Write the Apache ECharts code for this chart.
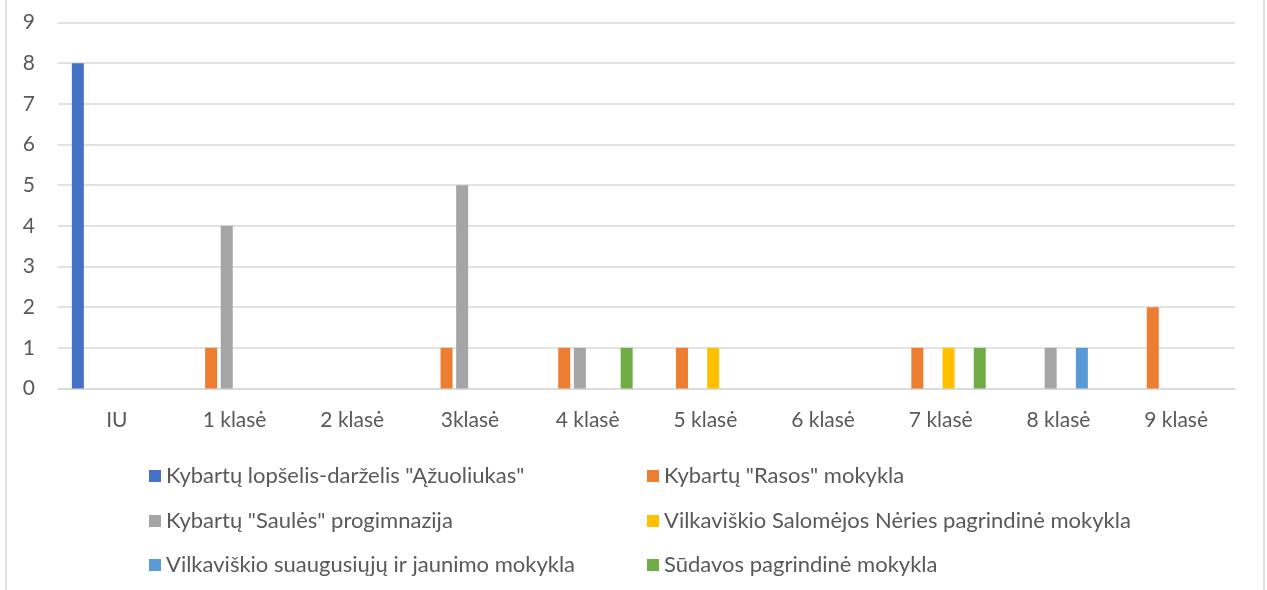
<!DOCTYPE html>
<html>
<head>
<meta charset="utf-8">
<script src="https://cdn.jsdelivr.net/npm/echarts@6/dist/echarts.min.js"></script>
<style>
  html, body { margin: 0; padding: 0; background: #fff; }
  #school-chart { width: 1267px; height: 590px; }
</style>
</head>
<body>
<div id="school-chart"></div>
<script>
  const classes = ['IU', '1 klasė', '2 klasė', '3klasė', '4 klasė', '5 klasė', '6 klasė', '7 klasė', '8 klasė', '9 klasė']
  const schools = [
    { name: 'Kybartų lopšelis-darželis "Ąžuoliukas"', color: '#4472C4', data: [8, null, null, null, null, null, null, null, null, null] },
    { name: 'Kybartų "Rasos" mokykla', color: '#ED7D31', data: [null, 1, null, 1, 1, 1, null, 1, null, 2] },
    { name: 'Kybartų "Saulės" progimnazija', color: '#A5A5A5', data: [null, 4, null, 5, 1, null, null, null, 1, null] },
    { name: 'Vilkaviškio Salomėjos Nėries pagrindinė mokykla', color: '#FFC000', data: [null, null, null, null, null, 1, null, 1, null, null] },
    { name: 'Vilkaviškio suaugusiųjų ir jaunimo mokykla', color: '#5B9BD5', data: [null, null, null, null, null, null, null, null, 1, null] },
    { name: 'Sūdavos pagrindinė mokykla', color: '#70AD47', data: [null, null, null, null, 1, null, null, 1, null, null] }
  ]
  const font = 'Lato, "Noto Sans", sans-serif'
  const textColor = '#595959'

  // legend laid out in two columns, three rows (like the Excel one)
  const legendPos = [
    { left: 144, top: 460 },
    { left: 642, top: 460 },
    { left: 144, top: 505 },
    { left: 642, top: 505 },
    { left: 144, top: 549 },
    { left: 642, top: 549 }
  ]

  const chart = echarts.init(document.getElementById('school-chart'))
  chart.setOption({
    animation: false,
    grid: { left: 58, right: 32, top: 22.5, bottom: 201.5, containLabel: false },
    graphic: [
      { type: 'line', shape: { x1: 6, y1: 0, x2: 6, y2: 590 }, style: { stroke: '#D9D9D9', lineWidth: 1.5 } },
      { type: 'line', shape: { x1: 1264, y1: 0, x2: 1264, y2: 590 }, style: { stroke: '#D9D9D9', lineWidth: 1.5 } }
    ],
    legend: schools.map((s, i) => ({
      data: [s.name],
      left: legendPos[i].left,
      top: legendPos[i].top,
      itemWidth: 12,
      itemHeight: 12,
      icon: 'rect',
      selectedMode: false,
      textStyle: { fontFamily: font, fontSize: 22, color: textColor }
    })),
    xAxis: {
      type: 'category',
      data: classes,
      axisLine: { lineStyle: { color: '#D9D9D9', width: 1.5 } },
      axisTick: { show: false },
      axisLabel: { margin: 21, fontFamily: font, fontSize: 21, color: textColor }
    },
    yAxis: {
      type: 'value',
      min: 0,
      max: 9,
      interval: 1,
      axisLine: { show: false },
      axisTick: { show: false },
      axisLabel: { margin: 23, fontFamily: font, fontSize: 21, color: textColor },
      splitLine: { lineStyle: { color: '#D9D9D9', width: 1.5 } }
    },
    series: schools.map(s => ({
      name: s.name,
      type: 'bar',
      data: s.data,
      barWidth: 12,
      barGap: '30%',
      itemStyle: { color: s.color }
    }))
  })
</script>
</body>
</html>
